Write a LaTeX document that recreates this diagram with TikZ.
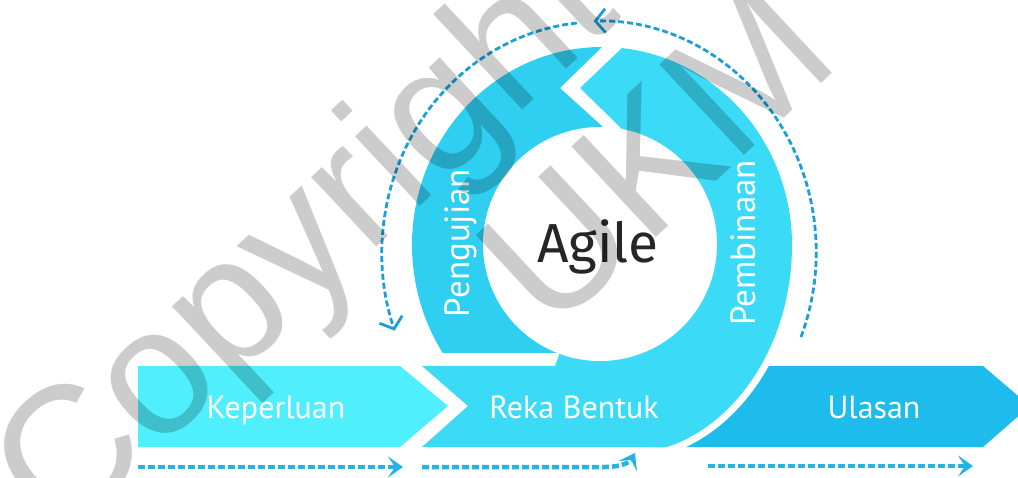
\documentclass[tikz,border=0pt]{standalone}
\usepackage{fontspec}
\setmainfont{PT Sans}
\newfontfamily\agilefont{Fira Sans}
\newfontfamily\markfont{Liberation Sans}
\usepackage{xcolor}
\usepackage{tikz}
\usetikzlibrary{calc}
\usetikzlibrary{positioning}
\usetikzlibrary{arrows.meta}

\definecolor{kepblue}{RGB}{79,239,253}
\definecolor{rekablue}{RGB}{59,219,248}
\definecolor{pengblue}{RGB}{47,207,242}
\definecolor{ulasblue}{RGB}{29,188,236}
\definecolor{flowblue}{RGB}{34,179,232}
\definecolor{ringblue}{RGB}{26,159,217}
\definecolor{agilegrey}{RGB}{38,38,38}

\begin{document}
\begin{tikzpicture}[x=1pt, y=-1pt]

        % radii of the outer edge of the ring
        \def\rx{190}
        \def\ry{198}

        % Styles for the phase texts and the dashed arrows
        \tikzset{
            phase/.style={text=white, anchor=base, inner sep=0pt, font=\fontsize{32}{36}\selectfont},
            ringphase/.style={phase, rotate=90, font=\fontsize{35}{40}\selectfont},
            flow/.style={draw=flowblue, line width=4.5pt, dash pattern=on 7pt off 3pt,
                -{Stealth[length=15pt, width=21pt, inset=7pt]}},
            ringarrow/.style={draw=ringblue, line width=2.8pt, dash pattern=on 6pt off 3pt,
                -{Straight Barb[length=10pt, width=24pt]}}
        }

        \useasboundingbox (0,0) rectangle (1018,478);

        % Ulasan lies under the ring, so it comes first
        \fill[ulasblue] (650,447) -- (983,447) -- (1030,406) -- (983,366) -- (700,366) -- cycle;
        \draw[white, line width=14pt] (667,447) .. controls (735,425) and (792,345) .. (792,245);

        % Reka Bentuk runs on into the right half of the ring
        \fill[rekablue] (422,366) -- (468,406) -- (422,447) -- (667,447)
            .. controls (735,425) and (792,345) .. (792,245)
            arc[start angle=0, end angle=-84, x radius=\rx, y radius=\ry]
            -- (580,88) -- (623,130) -- (600,244) -- (555,366) -- cycle;

        % Left half of the ring
        \fill[pengblue] (602,47)
            arc[start angle=-90, end angle=-213, x radius=\rx, y radius=\ry]
            -- (558,353) -- (600,244) -- (603,127) -- (560,88) -- cycle;

        % Hole of the ring
        \fill[white] (600,244) circle[radius=117];

        \fill[kepblue] (138,366) -- (400,366) -- (448,406) -- (400,447) -- (138,447) -- cycle;

        % Texts
        \node[phase] (kep) at (276,418) {Keperluan};
        \node[phase] (reka) at (574,418) {Reka Bentuk};
        \node[phase] (ulas) at (874,418) {Ulasan};
        \node[ringphase] (peng) at (469,243) {Pengujian};
        \node[ringphase] (bina) at (755,243) {Pembinaan};
        \node[anchor=base, inner sep=0pt, text=agilegrey,
            font=\agilefont\fontsize{55}{60}\selectfont] (agile) at (598,263) {Agile};

        % End points of the dashed arrows
        \coordinate (kepS) at (138,467);
        \coordinate (kepE) at (403,467);
        \coordinate (rekaS) at (422,467);
        \coordinate (rekaM) at (605,467);
        \coordinate (rekaE) at (635,453);
        \coordinate (ulasS) at (708,466);
        \coordinate (ulasE) at (973,466);
        \coordinate (ringR) at (801,337);
        \coordinate (ringL) at (577,23);

        \begin{scope}
            \draw[flow] (kepS) -- (kepE);
            \draw[flow] (rekaS) -- (rekaM) .. controls (622,467) and (630,462) .. (rekaE);
            \draw[flow] (ulasS) -- (ulasE);

            \draw[ringarrow] (ringR) arc[start angle=21.6, end angle=-91.5, x radius=217, y radius=231];
            \draw[ringarrow] (ringL) arc[start angle=-95.8, end angle=-199.7, x radius=217, y radius=231];
        \end{scope}

        % Watermark
        \begin{scope}[every node/.style={rotate=43, anchor=base west, inner sep=0pt,
                text=black, text opacity=0.2, font=\markfont\fontsize{180}{180}\selectfont}]
            \node (mark1) at (60,542) {Copyright};
            \node (mark2) at (550,336) {UKM};
        \end{scope}

\end{tikzpicture}
\end{document}
